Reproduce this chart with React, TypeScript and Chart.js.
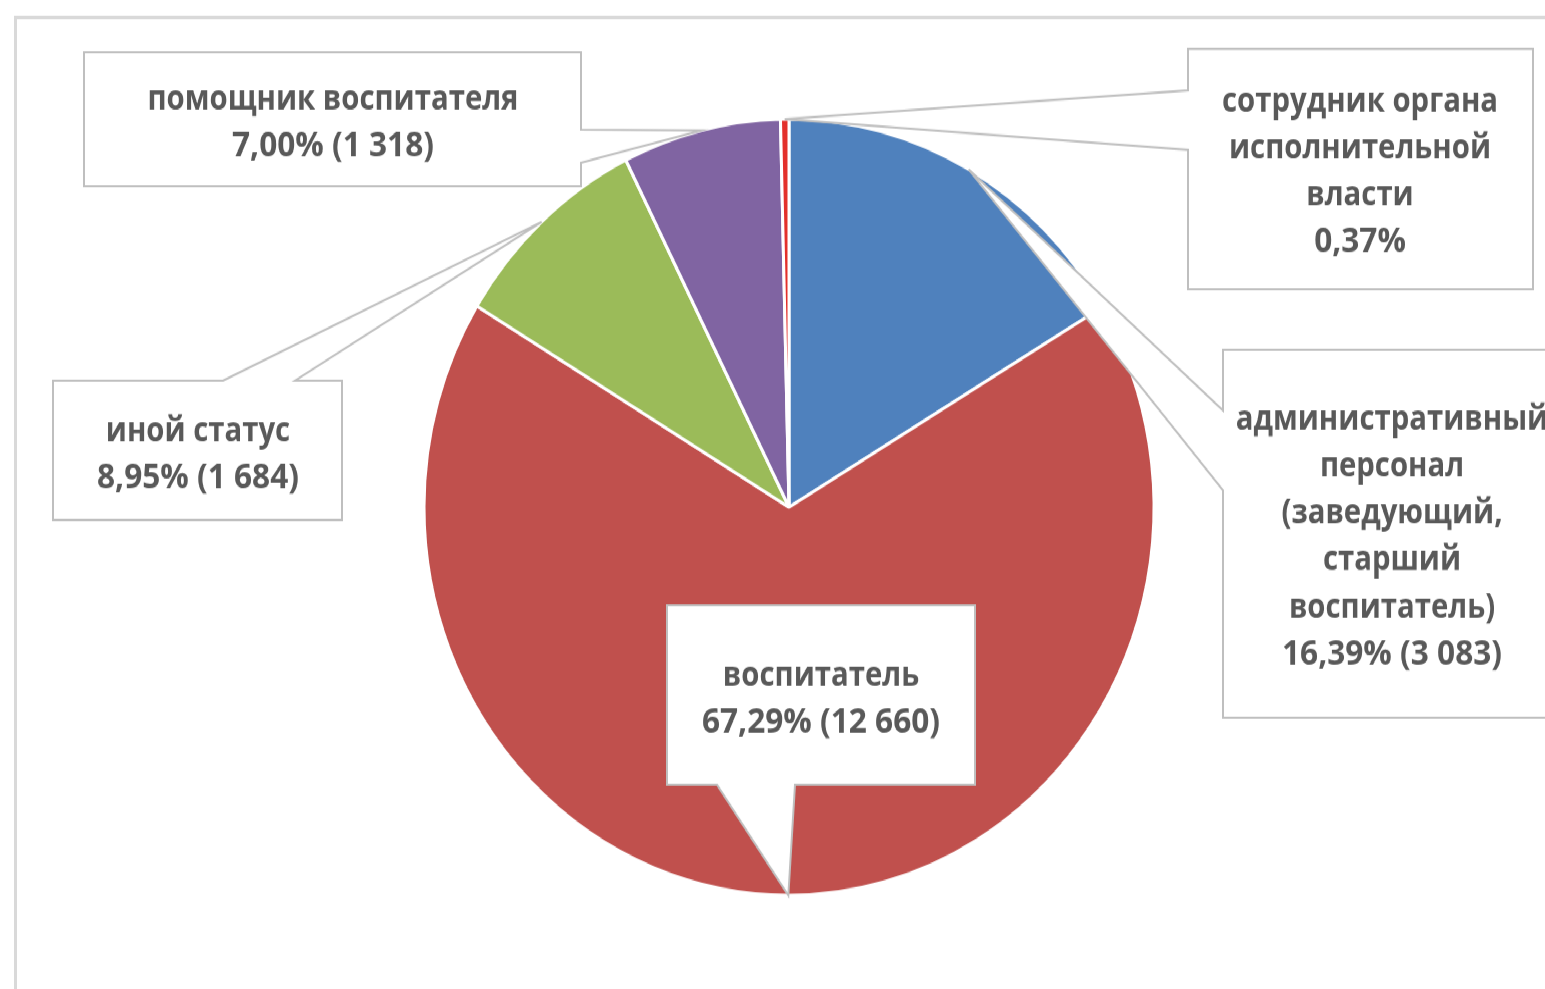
import React, { useEffect, useRef } from 'react';
import { Chart, registerables } from 'chart.js';

Chart.register(...registerables);

// ---- data ----
const categories = [
  'административный персонал (заведующий, старший воспитатель)',
  'воспитатель',
  'иной статус',
  'помощник воспитателя',
  'сотрудник органа исполнительной власти',
];
const values = [3083, 12660, 1684, 1318, 70];
const percentLabels = ['16,39%', '67,29%', '8,95%', '7,00%', '0,37%'];
const showCount = [true, true, true, true, false];
const categoryLines = [
  ['административный', 'персонал', '(заведующий,', 'старший', 'воспитатель)'],
  ['воспитатель'],
  ['иной статус'],
  ['помощник воспитателя'],
  ['сотрудник органа', 'исполнительной', 'власти'],
];
const colors = ['#4F81BD', '#C0504D', '#9BBB59', '#8064A2', '#E3302B'];

// ---- layout (canvas coordinates) ----
const W = 1545;
const H = 930;
const STRETCH = 989 / 930;
type Side = 'left' | 'right' | 'top' | 'bottom';
const callouts: { box: number[]; side: Side; base: number[]; cx: number; y0: number }[] = [
  { box: [1223, 329, 1562, 675], side: 'left', base: [386, 461], cx: 1392, y0: 403.5 },
  { box: [667, 569, 975, 738], side: 'bottom', base: [717, 795], cx: 821, y0: 644.5 },
  { box: [53, 358, 342, 489], side: 'top', base: [223, 295], cx: 198, y0: 414.5 },
  { box: [84, 49, 581, 175], side: 'right', base: [122, 153], cx: 333, y0: 102.5 },
  { box: [1188, 46, 1533, 272], side: 'left', base: [85, 141], cx: 1360, y0: 104.5 },
];
const LINE_H = 44.3;
const FONT = 'bold 32px "Open Sans", "Noto Sans", sans-serif';

const fmt = (n: number) => n.toString().replace(/\B(?=(\d{3})+(?!\d))/g, ' ');

const calloutPlugin = {
  id: 'callouts',
  beforeDraw(chart: any) {
    const ctx = chart.ctx;
    ctx.save();
    ctx.strokeStyle = '#D9D9D9';
    ctx.lineWidth = 3;
    ctx.beginPath();
    ctx.moveTo(15.5, H + 10);
    ctx.lineTo(15.5, 16.5);
    ctx.lineTo(W + 10, 16.5);
    ctx.stroke();
    ctx.restore();
  },
  afterDraw(chart: any) {
    const ctx = chart.ctx;
    const meta = chart.getDatasetMeta(0);
    ctx.save();
    ctx.font = FONT;
    const k = 371 / ctx.measureText('помощник воспитателя').width;
    const kv = 220 / ctx.measureText('16,39% (3 083)').width;
    meta.data.forEach((arc: any, i: number) => {
      const p = arc.getProps(['x', 'y', 'startAngle', 'endAngle', 'outerRadius'], true);
      const mid = (p.startAngle + p.endAngle) / 2;
      const tx = p.x + Math.cos(mid) * p.outerRadius;
      const ty = p.y + Math.sin(mid) * p.outerRadius;
      const c = callouts[i];
      const [x0, y0, x1, y1] = c.box;
      const [a, b] = c.base;
      const pts: number[][] = [[x0, y0]];
      if (c.side === 'top') pts.push([a, y0], [tx, ty], [b, y0]);
      pts.push([x1, y0]);
      if (c.side === 'right') pts.push([x1, a], [tx, ty], [x1, b]);
      pts.push([x1, y1]);
      if (c.side === 'bottom') pts.push([b, y1], [tx, ty], [a, y1]);
      pts.push([x0, y1]);
      if (c.side === 'left') pts.push([x0, b], [tx, ty], [x0, a]);
      ctx.beginPath();
      pts.forEach((pt, j) => (j === 0 ? ctx.moveTo(pt[0], pt[1]) : ctx.lineTo(pt[0], pt[1])));
      ctx.closePath();
      ctx.fillStyle = '#FFFFFF';
      ctx.fill();
      ctx.strokeStyle = '#BFBFBF';
      ctx.lineWidth = 2;
      ctx.lineJoin = 'miter';
      ctx.stroke();

      const lines = [...categoryLines[i]];
      const nCat = lines.length;
      lines.push(percentLabels[i] + (showCount[i] ? ' (' + fmt(values[i]) + ')' : ''));
      ctx.fillStyle = '#595959';
      ctx.textAlign = 'center';
      ctx.textBaseline = 'alphabetic';
      lines.forEach((line, j) => {
        ctx.save();
        ctx.translate(c.cx, c.y0 + j * LINE_H);
        ctx.scale(j >= nCat ? kv : k, 1);
        ctx.fillText(line, 0, 0);
        ctx.restore();
      });
    });
    ctx.restore();
  },
};

export default function App() {
  const ref = useRef<HTMLCanvasElement>(null);
  useEffect(() => {
    if (!ref.current) return;
    const cx = 789;
    const cy = 477;
    const half = 366.5;
    const chart = new Chart(ref.current, {
      type: 'pie',
      data: {
        labels: categories,
        datasets: [
          {
            data: values,
            backgroundColor: colors,
            borderColor: '#FFFFFF',
            borderWidth: 3,
            hoverOffset: 0,
            offset: 0,
          },
        ],
      },
      options: {
        responsive: false,
        animation: false,
        devicePixelRatio: 1,
        layout: {
          padding: { left: cx - half, right: W - (cx + half), top: cy - half, bottom: H - (cy + half) },
        },
        plugins: {
          legend: { display: false },
          tooltip: { enabled: false },
        },
        events: [],
      },
      plugins: [calloutPlugin],
    });
    return () => chart.destroy();
  }, []);
  return (
    <div
      style={{
        position: 'absolute',
        left: 0,
        top: 0,
        width: W,
        height: H,
        background: '#FFFFFF',
        transform: `scaleY(${STRETCH})`,
        transformOrigin: '0 0',
      }}
    >
      <canvas ref={ref} width={W} height={H} />
    </div>
  );
}
